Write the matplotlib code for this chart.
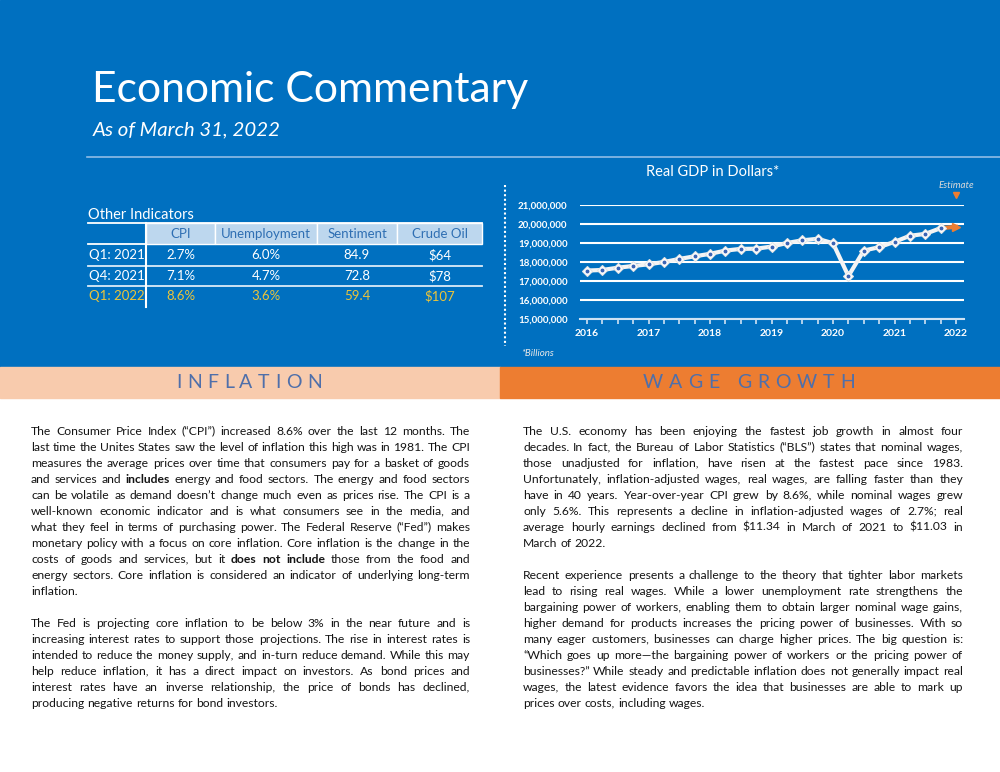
import math
import matplotlib
matplotlib.use("Agg")
import matplotlib.pyplot as plt
from matplotlib.patches import Rectangle
from matplotlib.ticker import FuncFormatter, FixedLocator

plt.rcParams['font.family'] = 'Lato'

BLUE = '#0070C0'
PEACH = '#F8CBAD'
ORANGE = '#ED7D31'
HEAD_BLUE = '#BDD7EE'
GOLD = '#EBC43A'
INK = '#141414'

# ---- chart data ----
quarters = ["2016 Q1", "2016 Q2", "2016 Q3", "2016 Q4",
            "2017 Q1", "2017 Q2", "2017 Q3", "2017 Q4",
            "2018 Q1", "2018 Q2", "2018 Q3", "2018 Q4",
            "2019 Q1", "2019 Q2", "2019 Q3", "2019 Q4",
            "2020 Q1", "2020 Q2", "2020 Q3", "2020 Q4",
            "2021 Q1", "2021 Q2", "2021 Q3", "2021 Q4"]
gdp = [17550000, 17580000, 17700000, 17790000,
       17880000, 18000000, 18160000, 18300000,
       18430000, 18600000, 18690000, 18700000,
       18810000, 19000000, 19140000, 19220000,
       18990000, 17260000, 18600000, 18780000,
       19060000, 19380000, 19480000, 19780000]
estimate_quarter = "2022 Q1"
estimate_gdp = 19850000
year_ticks = [2016, 2017, 2018, 2019, 2020, 2021, 2022]
gdp_ticks = [15000000, 16000000, 17000000, 18000000, 19000000, 20000000, 21000000]

# ---- table data ----
table_title = "Other Indicators"
table_columns = ["CPI", "Unemployment", "Sentiment", "Crude Oil"]
table_rows = ["Q1: 2021", "Q4: 2021", "Q1: 2022"]
cpi = ["2.7%", "7.1%", "8.6%"]
unemployment = ["6.0%", "4.7%", "3.6%"]
sentiment = ["84.9", "72.8", "59.4"]
crude_oil = ["$64", "$78", "$107"]

# ---- text ----
inflation_text = [
    ["The Consumer Price Index (“CPI”) increased 8.6% over the last 12 months. The",
     "last time the Unites States saw the level of inflation this high was in 1981. The CPI",
     "measures the average prices over time that consumers pay for a basket of goods",
     "and services and **includes** energy and food sectors. The energy and food sectors",
     "can be volatile as demand doesn’t change much even as prices rise. The CPI is a",
     "well-known economic indicator and is what consumers see in the media, and",
     "what they feel in terms of purchasing power. The Federal Reserve (“Fed”) makes",
     "monetary policy with a focus on core inflation. Core inflation is the change in the",
     "costs of goods and services, but it **does** **not** **include** those from the food and",
     "energy sectors. Core inflation is considered an indicator of underlying long-term",
     "inflation."],
    ["The Fed is projecting core inflation to be below 3% in the near future and is",
     "increasing interest rates to support those projections. The rise in interest rates is",
     "intended to reduce the money supply, and in-turn reduce demand. While this may",
     "help reduce inflation, it has a direct impact on investors. As bond prices and",
     "interest rates have an inverse relationship, the price of bonds has declined,",
     "producing negative returns for bond investors."],
]
wage_text = [
    ["The U.S. economy has been enjoying the fastest job growth in almost four",
     "decades. In fact, the Bureau of Labor Statistics (“BLS”) states that nominal wages,",
     "those unadjusted for inflation, have risen at the fastest pace since 1983.",
     "Unfortunately, inflation-adjusted wages, real wages, are falling faster than they",
     "have in 40 years. Year-over-year CPI grew by 8.6%, while nominal wages grew",
     "only 5.6%. This represents a decline in inflation-adjusted wages of 2.7%; real",
     "average hourly earnings declined from $11.34 in March of 2021 to $11.03 in",
     "March of 2022."],
    ["Recent experience presents a challenge to the theory that tighter labor markets",
     "lead to rising real wages. While a lower unemployment rate strengthens the",
     "bargaining power of workers, enabling them to obtain larger nominal wage gains,",
     "higher demand for products increases the pricing power of businesses. With so",
     "many eager customers, businesses can charge higher prices. The big question is:",
     "“Which goes up more—the bargaining power of workers or the pricing power of",
     "businesses?” While steady and predictable inflation does not generally impact real",
     "wages, the latest evidence favors the idea that businesses are able to mark up",
     "prices over costs, including wages."],
]

fig = plt.figure(figsize=(10, 7.72), dpi=100)
R = fig.canvas.get_renderer()

page = fig.add_axes([0, 0, 1, 1])
page.set_xlim(0, 1000)
page.set_ylim(772, 0)
page.axis('off')


def width_of(t):
    return t.get_window_extent(R).width


def fit_text(ax, s, x, y, width, **kw):
    # scale the font so the string spans the wanted width
    t = ax.text(x, y, s, parse_math=False, **kw)
    t.set_fontsize(t.get_fontsize() * width / width_of(t))
    return t


def space_width(ax, **kw):
    a = ax.text(0, 0, "n n", **kw)
    b = ax.text(0, 0, "nn", **kw)
    sp = width_of(a) - width_of(b)
    a.remove()
    b.remove()
    return sp


def spaced_text(ax, s, xc, y, width, **kw):
    # letter-spaced heading, centred on xc
    chars = [ax.text(0, y, c, parse_math=False, **kw) for c in s]
    sp = space_width(ax, **kw)
    ws = [sp if c == " " else width_of(t) for c, t in zip(s, chars)]
    track = (width - sum(ws)) / (len(s) - 1)
    x = xc - width / 2
    for t, w in zip(chars, ws):
        t.set_x(x)
        x += w + track


def split_words(line):
    out = []
    for w in line.split(" "):
        if w.startswith("**"):
            out.append((w.strip("*"), "bold"))
        else:
            out.append((w, "normal"))
    return out


def natural_width(ax, line, size):
    ts = [ax.text(0, 0, w, fontsize=size, fontweight=fw, parse_math=False)
          for w, fw in split_words(line)]
    total = sum(width_of(t) for t in ts)
    for t in ts:
        t.remove()
    return total + space_width(ax, fontsize=size) * (len(ts) - 1)


def justified(ax, paragraphs, x0, x1, y0, lh, size):
    sp = space_width(ax, fontsize=size)
    y = y0
    for para in paragraphs:
        for i, line in enumerate(para):
            words = split_words(line)
            ts = []
            for w, fw in words:
                t = ax.text(0, y, w, fontsize=size, fontweight=fw, color=INK,
                            va='baseline', parse_math=False)
                # Agg rounds glyph bitmaps; words whose descent is fractional
                # (commas, $) land a pixel low, so lift them back
                h = R.get_text_width_height_descent(w, t.get_fontproperties(),
                                                    ismath=False)[1]
                t.set_y(y - (h - math.floor(h)))
                ts.append(t)
            ws = [width_of(t) for t in ts]
            if i == len(para) - 1 or len(ts) == 1:
                gap = sp
            else:
                gap = (x1 - x0 - sum(ws)) / (len(ts) - 1)
            x = x0
            for t, w in zip(ts, ws):
                t.set_x(x)
                x += w + gap
            y += lh
        y += lh


# ---- page background ----
page.add_patch(Rectangle((0, 0), 1000, 367, color=BLUE, zorder=0))
page.add_patch(Rectangle((0, 367), 500, 31, color=PEACH, zorder=0))
page.add_patch(Rectangle((500, 367), 500, 31, color=ORANGE, zorder=0))
page.plot([87, 1000], [157, 157], color='#8FBCE6', lw=1.2)

fit_text(page, "Economic Commentary", 92, 102, 436, fontsize=30, color='white',
         va='baseline')
fit_text(page, "As of March 31, 2022", 93, 135, 188, fontsize=14, color='white',
         style='italic', va='baseline')

spaced_text(page, "INFLATION", 249, 383, 146, fontsize=14, color='#4F6FAA', va='center')
spaced_text(page, "WAGE GROWTH", 749, 383, 212, fontsize=14, color='#4F6FAA', va='center')

# ---- table ----
col_edges = [88, 146, 215, 317, 397, 482]
row_edges = [223, 244, 266, 286, 307]
page.text(88, 219, table_title, fontsize=10.5, color='white', va='baseline')
for i, name in enumerate(table_columns):
    x0, x1 = col_edges[i + 1], col_edges[i + 2]
    page.add_patch(Rectangle((x0, row_edges[0]), x1 - x0, row_edges[1] - row_edges[0],
                             fc=HEAD_BLUE, ec='white', lw=1, zorder=1))
    page.text((x0 + x1) / 2, (row_edges[0] + row_edges[1]) / 2 + 1, name, fontsize=9.5,
              color='#2F6FB3', ha='center', va='center', zorder=2)
page.plot([88, 482], [223, 223], color='white', lw=1.3, zorder=3)
page.plot([88, 146], [244, 244], color='white', lw=1.3, zorder=3)
for yy in row_edges[2:4]:
    page.plot([88, 482], [yy, yy], color='#DCEBF8', lw=1.3, zorder=3)
page.plot([146, 146], [223, 307], color='white', lw=1.5, zorder=3)

columns = [cpi, unemployment, sentiment, crude_oil]
for r, label in enumerate(table_rows):
    yc = (row_edges[r + 1] + row_edges[r + 2]) / 2
    color = GOLD if r == len(table_rows) - 1 else 'white'
    page.text(89, yc, label, fontsize=9.5, color=color, va='center')
    for c, vals in enumerate(columns):
        xc = (col_edges[c + 1] + col_edges[c + 2]) / 2
        page.text(xc, yc, vals[r], fontsize=9.5, color=color, ha='center', va='center',
                  parse_math=False)

# ---- GDP chart ----
page.text(713, 172, "Real GDP in Dollars*", fontsize=10.5, color='white',
          ha='center', va='center')
page.plot([505, 505], [185, 346], color='white', lw=1.5, ls=(0, (1, 1.2)))
page.text(521, 354, "*Billions", fontsize=7, color='#E8E8E8', style='italic',
          va='center')

ax = fig.add_axes([0.580, 1 - 319 / 772, 0.384, 114 / 772])
ax.patch.set_alpha(0)


def qpos(label):
    year, q = label.split(" Q")
    return int(year) + (int(q) - 1) / 4


xs = [qpos(q) for q in quarters]
xe = qpos(estimate_quarter)
ax.plot([xs[-1], xe], [gdp[-1], estimate_gdp], color=ORANGE, lw=3, zorder=3)
ax.plot([xe], [estimate_gdp], marker='>', color=ORANGE, ms=6, clip_on=False, zorder=4)
ax.plot(xs, gdp, color='#F4F4F4', lw=3, zorder=4)
ax.plot(xs, gdp, 'D', ms=5, mfc='white', mec='#E6E6E6', mew=0.8, zorder=5)
ax.plot(xs, gdp, 'o', ms=1.8, color='#3C64B4', zorder=6)

ax.set_xlim(2015.886, 2022.13)
ax.set_ylim(gdp_ticks[0], gdp_ticks[-1])
ax.yaxis.set_major_locator(FixedLocator(gdp_ticks))
ax.yaxis.set_major_formatter(FuncFormatter(lambda v, p: f"{v:,.0f}"))
ax.xaxis.set_major_locator(FixedLocator(year_ticks))
ax.xaxis.set_minor_locator(FixedLocator([qpos(q) for q in quarters] + [xe]))
ax.set_xticklabels([str(y) for y in year_ticks])
ax.grid(axis='y', color='white', lw=1.5)
ax.set_axisbelow(True)
for s in ['left', 'right', 'top']:
    ax.spines[s].set_visible(False)
ax.spines['bottom'].set_color('#CFE2F3')
ax.spines['bottom'].set_linewidth(1.5)
ax.tick_params(axis='y', length=0, pad=9, labelsize=7, labelcolor='white')
ax.tick_params(axis='x', which='both', length=3.5, width=1.2, color='#CFE2F3',
               labelsize=7.5, labelcolor='white', pad=4)
for lab in ax.get_xticklabels() + ax.get_yticklabels():
    lab.set_fontweight('bold')

trans = ax.get_xaxis_transform()
ax.text(xe, 1.175, "Estimate", transform=trans, fontsize=7, style='italic',
        color='#D9D9D9', ha='center', va='center')
ax.plot([xe], [1.09], transform=trans, marker='v', color=ORANGE, ms=4.5, clip_on=False)

# ---- body copy: largest size at which every full line still fits ----
body_size = 10.0
for paras, width in [(inflation_text, 439), (wage_text, 440)]:
    for para in paras:
        for line in para[:-1]:
            body_size = min(body_size, 10.0 * width / natural_width(page, line, 10.0))
body_size = min(body_size * 0.995, 9.4)

justified(page, inflation_text, 31, 470, 435, 16, body_size)
justified(page, wage_text, 523, 963, 435, 16, body_size)

fig.savefig("out.png", dpi=100)
